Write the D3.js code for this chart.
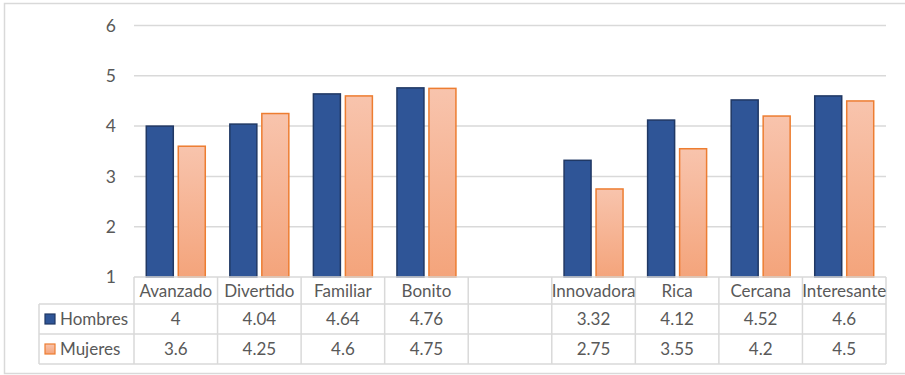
<!DOCTYPE html>
<html>
<head>
<meta charset="utf-8">
<script src="https://cdn.jsdelivr.net/npm/d3@7"></script>
<style>
  body { margin: 0; background: #fff; }
  svg { font-family: Lato, "Noto Sans", sans-serif; }
</style>
</head>
<body>
<div id="chart"></div>
<script>
// data
const categories = ["Avanzado", "Divertido", "Familiar", "Bonito", "", "Innovadora", "Rica", "Cercana", "Interesante"];
const series = ["Hombres", "Mujeres"];
const hombres = [4, 4.04, 4.64, 4.76, null, 3.32, 4.12, 4.52, 4.6];
const mujeres = [3.6, 4.25, 4.6, 4.75, null, 2.75, 3.55, 4.2, 4.5];
const yTicks = [1, 2, 3, 4, 5, 6];

const W = 905, H = 375;
const plot = { left: 134, right: 886, top: 25.5, bottom: 277 };
const rowH = [27, 30, 30];   // header, hombres, mujeres
const legendLeft = 39;
const textColor = "#595959", lineColor = "#d9d9d9";

const svg = d3.select("#chart")
  .append("svg")
    .attr("width", W)
    .attr("height", H);

const defs = svg.append("defs");
const grad = defs.append("linearGradient")
  .attr("id", "gMuj").attr("x1", 0).attr("y1", 0).attr("x2", 0).attr("y2", 1);
grad.append("stop").attr("offset", "0%").attr("stop-color", "#f8c4ad");
grad.append("stop").attr("offset", "100%").attr("stop-color", "#f4a47b");

// outer frame
svg.append("rect")
  .attr("x", 4.5).attr("y", 3.5)
  .attr("width", 920).attr("height", 370)
  .attr("fill", "none").attr("stroke", lineColor).attr("stroke-width", 1.5);

const x = d3.scaleBand()
  .domain(categories)
  .range([plot.left, plot.right]);

const x1 = d3.scaleBand()
  .domain(series)
  .range([x.bandwidth() * 0.147, x.bandwidth() * 0.853])
  .paddingInner(0.156);

const y = d3.scaleLinear()
  .domain([1, 6])
  .range([plot.bottom, plot.top]);

// gridlines + y labels
svg.append("g")
  .selectAll("line")
  .data(yTicks.slice(1))
  .join("line")
    .attr("x1", plot.left).attr("x2", plot.right)
    .attr("y1", d => y(d)).attr("y2", d => y(d))
    .attr("stroke", lineColor).attr("stroke-width", 1.5);

svg.append("g")
  .selectAll("text")
  .data(yTicks)
  .join("text")
    .attr("x", 116)
    .attr("y", d => y(d))
    .attr("dy", "0.36em")
    .attr("text-anchor", "end")
    .attr("fill", textColor)
    .style("font-size", "17.5px")
    .text(d => d);

// bars
const colors = { Hombres: "#2f5597", Mujeres: "url(#gMuj)" };
const strokes = { Hombres: "#203864", Mujeres: "#ed7d31" };
const vals = { Hombres: hombres, Mujeres: mujeres };

series.forEach(s => {
  svg.append("g")
    .selectAll("rect")
    .data(categories.map((c, i) => ({ c, v: vals[s][i] })).filter(d => d.v != null))
    .join("rect")
      .attr("x", d => x(d.c) + x1(s))
      .attr("y", d => y(d.v))
      .attr("width", x1.bandwidth())
      .attr("height", d => y(1) - y(d.v))
      .attr("fill", colors[s])
      .attr("stroke", strokes[s])
      .attr("stroke-width", 1.5);
});

// data table
const tbl = svg.append("g").attr("stroke", lineColor).attr("stroke-width", 1.5);
const rowY = [plot.bottom, plot.bottom + rowH[0], plot.bottom + rowH[0] + rowH[1], plot.bottom + rowH[0] + rowH[1] + rowH[2]];

// horizontal lines
tbl.append("line").attr("x1", plot.left).attr("x2", plot.right).attr("y1", rowY[0]).attr("y2", rowY[0]);
[1, 2, 3].forEach(r => {
  tbl.append("line").attr("x1", legendLeft).attr("x2", plot.right).attr("y1", rowY[r]).attr("y2", rowY[r]);
});
// vertical lines
tbl.append("line").attr("x1", legendLeft).attr("x2", legendLeft).attr("y1", rowY[1]).attr("y2", rowY[3]);
tbl.selectAll(".vl")
  .data(categories.map(c => x(c)).concat([plot.right]))
  .join("line")
    .attr("x1", d => d).attr("x2", d => d)
    .attr("y1", rowY[0]).attr("y2", rowY[3]);

// header labels
svg.append("g")
  .selectAll("text")
  .data(categories)
  .join("text")
    .attr("x", d => x(d) + x.bandwidth() / 2)
    .attr("y", (rowY[0] + rowY[1]) / 2)
    .attr("dy", "0.36em")
    .attr("text-anchor", "middle")
    .attr("fill", textColor)
    .style("font-size", "17px")
    .text(d => d);

// value rows
series.forEach((s, si) => {
  const cy = (rowY[si + 1] + rowY[si + 2]) / 2;
  svg.append("g")
    .selectAll("text")
    .data(categories.map((c, i) => ({ c, v: vals[s][i] })).filter(d => d.v != null))
    .join("text")
      .attr("x", d => x(d.c) + x.bandwidth() / 2)
      .attr("y", cy)
      .attr("dy", "0.36em")
      .attr("text-anchor", "middle")
      .attr("fill", textColor)
      .style("font-size", "17px")
      .text(d => d.v);

  // legend key
  svg.append("rect")
    .attr("x", 45).attr("y", cy - 5)
    .attr("width", 10).attr("height", 10)
    .attr("fill", colors[s])
    .attr("stroke", strokes[s]).attr("stroke-width", 1.2);
  svg.append("text")
    .attr("x", 60).attr("y", cy)
    .attr("dy", "0.36em")
    .attr("fill", textColor)
    .style("font-size", "17px")
    .text(s);
});
</script>
</body>
</html>
